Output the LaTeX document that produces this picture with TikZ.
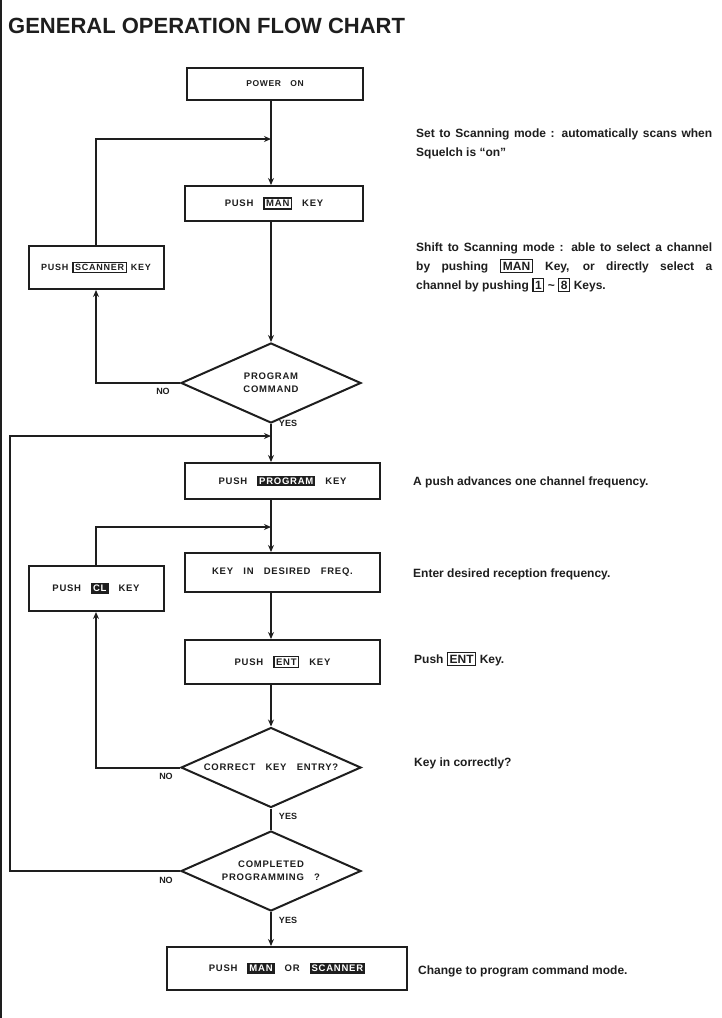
\documentclass[tikz,border=0pt]{standalone}
\usepackage{fontspec}
\setmainfont{Liberation Sans}
\newfontfamily\boxfont[LetterSpace=8,WordSpace=3]{Liberation Sans}
\usetikzlibrary{shapes.geometric,arrows.meta}
\definecolor{ink}{RGB}{30,30,30}
\newcommand\keyo[1]{{\setlength\fboxsep{1.5pt}\setlength\fboxrule{1.3pt}\fbox{#1}}}
\newcommand\keyf[1]{{\setlength\fboxsep{2pt}\colorbox{ink}{\textcolor{white}{#1}}}}
\begin{document}
\begin{tikzpicture}[x=1pt,y=-1pt,
  box/.style={draw=ink, line width=2pt, rectangle, inner sep=0pt, text=ink,
    font=\boxfont\bfseries\fontsize{9.5}{11}\selectfont},
  dia/.style={draw=ink, line width=2pt, diamond, aspect=2.25, inner sep=0pt,
    minimum width=180pt, minimum height=80pt, align=center, text=ink,
    font=\boxfont\bfseries\fontsize{9.5}{13}\selectfont},
  flow/.style={draw=ink, line width=2pt},
  arr/.style={flow, -{Stealth[length=7pt,width=6pt]}},
  lbl/.style={font=\bfseries\fontsize{9}{10}\selectfont, text=ink, inner sep=0pt},
  note/.style={font=\bfseries\fontsize{12}{19}\selectfont, text=ink, inner sep=0pt, anchor=base west}
]
\useasboundingbox (0,0) rectangle (722,1018);
\fill[white] (0,0) rectangle (722,1018);
\draw[ink, line width=2pt] (1,0) -- (1,1018);

\node[anchor=base west, inner sep=0pt, text=ink, font=\bfseries\fontsize{22}{26}\selectfont] (title) at (8,33) {GENERAL OPERATION FLOW CHART};

\coordinate (mx) at (271,0);
\node[box, minimum width=176pt, minimum height=32pt, font=\boxfont\bfseries\fontsize{8.5}{10}\selectfont] (power) at (275,84) {POWER ON};
\node[box, minimum width=178pt, minimum height=35pt] (man) at (274,203.5) {PUSH\hspace{10pt}\keyo{MAN}\hspace{10pt}KEY};
\node[box, minimum width=135pt, minimum height=43pt, font=\boxfont\bfseries\fontsize{9}{10}\selectfont] (scan) at (96,267.5) {PUSH\hspace{4pt}{\setlength\fboxsep{2pt}\keyo{SCANNER}}\hspace{4pt}KEY};
\node[dia] (d1) at (271,383) {PROGRAM\\COMMAND};
\node[box, minimum width=195pt, minimum height=36pt] (prog) at (282.5,481) {PUSH\hspace{10pt}\keyf{PROGRAM}\hspace{10pt}KEY};
\node[box, minimum width=195pt, minimum height=39pt] (keyin) at (282.5,572.5) {KEY IN DESIRED FREQ.};
\node[box, minimum width=135pt, minimum height=45pt] (cl) at (96,588.5) {PUSH\hspace{10pt}\keyf{CL}\hspace{10pt}KEY};
\node[box, minimum width=195pt, minimum height=44pt] (ent) at (282.5,662) {PUSH\hspace{10pt}\keyo{ENT}\hspace{10pt}KEY};
\node[dia] (d2) at (271,767.5) {CORRECT KEY ENTRY?};
\node[dia] (d3) at (271,871) {COMPLETED\\PROGRAMMING ?};
\node[box, minimum width=240pt, minimum height=43pt] (fin) at (287,968.5) {PUSH\hspace{10pt}\keyf{MAN}\hspace{10pt}OR\hspace{10pt}\keyf{SCANNER}};

\coordinate (j1) at (271,139);
\coordinate (j2) at (271,436);
\coordinate (j3) at (271,527);
\coordinate (ol) at (10,436);

\draw[arr] (power.south -| mx) -- (man.north -| mx);
\draw[arr] (man.south -| mx) -- (d1.north);
\draw[arr] (d1.south) -- (prog.north -| mx);
\draw[arr] (prog.south -| mx) -- (keyin.north -| mx);
\draw[arr] (keyin.south -| mx) -- (ent.north -| mx);
\draw[arr] (ent.south -| mx) -- (d2.north);
\draw[flow] (d2.south) -- (d3.north);
\draw[arr] (d3.south) -- (fin.north -| mx);

\draw[arr] (d1.west) -| (scan.south);
\draw[arr] (scan.north) |- (j1);
\draw[arr] (d2.west) -| (cl.south);
\draw[arr] (cl.north) |- (j3);
\draw[arr] (d3.west) -| (ol) -- (j2);

\node[lbl] (no1) at (163,391) {NO};
\node[lbl] (no2) at (166,776) {NO};
\node[lbl] (no3) at (166,880) {NO};
\node[lbl] (yes1) at (288,423) {YES};
\node[lbl] (yes2) at (288,816) {YES};
\node[lbl] (yes3) at (288,920) {YES};

\node[note, text width=296pt, align=justify] (n1) at (416,137) {Set to Scanning mode : automatically scans when\linebreak Squelch is ``on''};
\node[note, text width=296pt, align=justify] (n2) at (416,251) {Shift to Scanning mode : able to select a channel\linebreak by pushing\hspace{12pt}\keyo{MAN}\hspace{12pt}Key, or directly select a\linebreak channel by pushing \keyo{1} \textasciitilde\ \keyo{8} Keys.};
\node[note] (n3) at (413,485) {A push advances one channel frequency.};
\node[note] (n4) at (413,577) {Enter desired reception frequency.};
\node[note] (n5) at (414,663) {Push \keyo{ENT} Key.};
\node[note] (n6) at (414,766) {Key in correctly?};
\node[note] (n7) at (418,974) {Change to program command mode.};
\end{tikzpicture}
\end{document}
